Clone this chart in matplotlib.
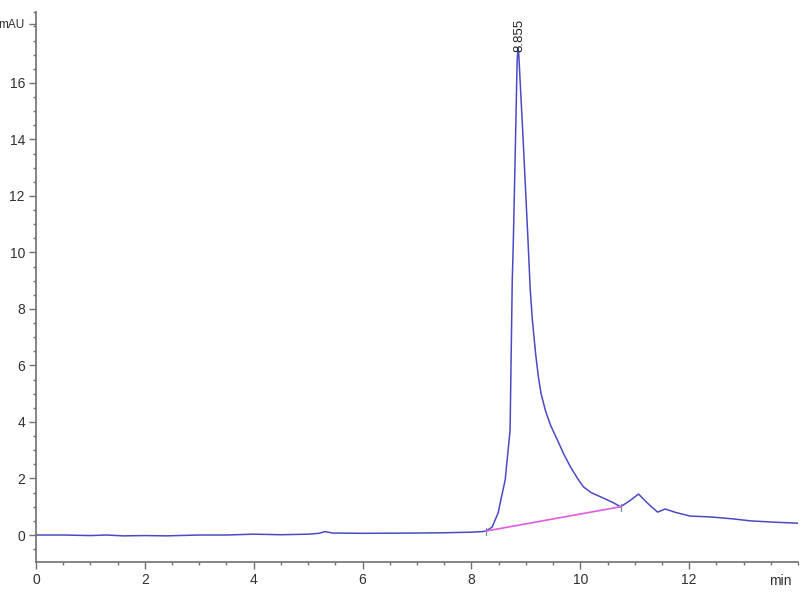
import matplotlib.pyplot as plt
from matplotlib.ticker import MultipleLocator

plt.rcParams['font.family'] = ['Liberation Sans Narrow', 'Liberation Sans', 'DejaVu Sans']

# chromatogram trace (time in min, signal in mAU)
time = [0.0, 0.5, 1.0, 1.3, 1.6, 2.0, 2.4, 3.0, 3.5, 4.0, 4.5, 5.0, 5.2, 5.31, 5.45,
        6.0, 7.0, 7.5, 8.0, 8.2, 8.27, 8.38, 8.49, 8.62, 8.71, 8.75, 8.77, 8.81, 8.84,
        8.855, 8.87, 8.95, 9.04, 9.08, 9.12, 9.18, 9.23, 9.28, 9.36, 9.45, 9.58, 9.7, 9.82,
        9.95, 10.06, 10.2, 10.42, 10.6, 10.74, 10.9, 11.07, 11.25, 11.42, 11.56, 11.75,
        12.02, 12.39, 12.81, 13.13, 13.6, 14.0]
signal = [0.0, 0.0, -0.02, 0.0, -0.03, -0.02, -0.03, 0.0, 0.0, 0.03, 0.01, 0.03, 0.06, 0.12, 0.07,
          0.06, 0.07, 0.08, 0.1, 0.12, 0.14, 0.28, 0.78, 1.95, 3.7, 9.0, 10.4, 14.0, 16.8,
          17.25, 17.0, 14.0, 10.4, 8.7, 7.6, 6.4, 5.6, 5.0, 4.4, 3.9, 3.36, 2.85, 2.41,
          2.0, 1.70, 1.5, 1.31, 1.15, 1.0, 1.2, 1.45, 1.1, 0.81, 0.92, 0.8,
          0.67, 0.64, 0.57, 0.50, 0.45, 0.42]

# integration baseline of the main peak
base_time = [8.27, 10.74]
base_signal = [0.14, 1.0]

peak_time = 8.855
peak_height = 17.25

y_ticks = [0, 2, 4, 6, 8, 10, 12, 14, 16, 18.1]
y_labels = ['0', '2', '4', '6', '8', '10', '12', '14', '16', 'mAU']
x_ticks = [0, 2, 4, 6, 8, 10, 12]

fig = plt.figure(figsize=(8, 6), dpi=100)
ax = fig.add_axes([0.045, 0.0633, 0.9525, 0.9167])

ax.plot(time, signal, c='#4a4ac4', lw=1.1)
ax.plot(base_time, base_signal, c='#e05ce0', lw=1.2)
for bt, bs in zip(base_time, base_signal):
    ax.plot([bt, bt], [bs - 0.15, bs + 0.1], c='#8080a0', lw=0.8)

ax.text(peak_time + 0.02, peak_height - 0.15, f'{peak_time:.3f}', rotation=90, ha='center', va='bottom',
        fontsize=9.5, color='#202020')

ax.set_xlim(0, 14.0)
ax.set_ylim(-0.956, 18.51)
ax.set_xticks(x_ticks)
ax.set_yticks(y_ticks)
ax.set_yticklabels(y_labels)
ax.xaxis.set_minor_locator(MultipleLocator(0.5))
ax.yaxis.set_minor_locator(MultipleLocator(0.5))

for side in ['top', 'right']:
    ax.spines[side].set_visible(False)
for side in ['left', 'bottom']:
    ax.spines[side].set_color('#707070')
    ax.spines[side].set_linewidth(1.2)

ax.tick_params(which='major', length=5, width=1, color='#707070', labelcolor='#303030', labelsize=10, pad=3)
ax.tick_params(which='minor', length=2.5, width=1, color='#707070')
ax.get_yticklabels()[-1].set_fontsize(8.5)

ax.annotate('min', xy=(13.68, 0), xycoords=('data', 'axes fraction'), xytext=(0, -8.5),
            textcoords='offset points', ha='center', va='top', fontsize=10, color='#303030')

fig.savefig('out.png', dpi=100)
